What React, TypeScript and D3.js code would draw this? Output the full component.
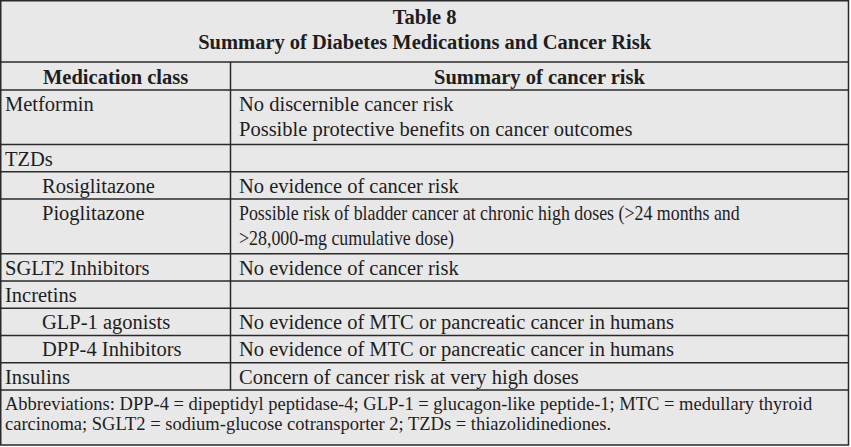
import React from "react";
import * as d3 from "d3";

const titleLines = ["Table 8", "Summary of Diabetes Medications and Cancer Risk"];
const headers = ["Medication class", "Summary of cancer risk"];
const medClasses = [
  "Metformin",
  "TZDs",
  "Rosiglitazone",
  "Pioglitazone",
  "SGLT2 Inhibitors",
  "Incretins",
  "GLP-1 agonists",
  "DPP-4 Inhibitors",
  "Insulins",
];
const indentLevels = [0, 0, 1, 1, 0, 0, 1, 1, 0];
const summaries: string[][] = [
  ["No discernible cancer risk", "Possible protective benefits on cancer outcomes"],
  [],
  ["No evidence of cancer risk"],
  [
    "Possible risk of bladder cancer at chronic high doses (>24 months and",
    ">28,000-mg cumulative dose)",
  ],
  ["No evidence of cancer risk"],
  [],
  ["No evidence of MTC or pancreatic cancer in humans"],
  ["No evidence of MTC or pancreatic cancer in humans"],
  ["Concern of cancer risk at very high doses"],
];
const footnoteLines = [
  "Abbreviations: DPP-4 = dipeptidyl peptidase-4; GLP-1 = glucagon-like peptide-1; MTC = medullary thyroid",
  "carcinoma; SGLT2 = sodium-glucose cotransporter 2; TZDs = thiazolidinediones.",
];

const W = 851;
const H = 447;
const left = 0.75;
const right = 848.5;
const colX = 230.5;
const titleBottom = 62;
const headerBottom = 90;
const bodyBottom = 390;
const tableBottom = 445;
const BG = "#e8e8e8";
const INK = "#1f1d1e";
const LINE = "#2a2a2a";
const FONT = "Liberation Serif";
const BODY = 20.5;
const CONDENSED_ROW = "Pioglitazone";
const CONDENSE = 0.872;

export default function App() {
  const lineCounts = summaries.map((s) => Math.max(1, s.length));
  const cum = [0];
  lineCounts.forEach((c) => cum.push(cum[cum.length - 1] + c));
  const y = d3.scaleLinear().domain([0, cum[cum.length - 1]]).range([headerBottom, bodyBottom]);
  const indent = d3.scaleLinear().domain([0, 1]).range([5, 42]);
  const txt = { fontFamily: FONT };
  const summaryX = 239;

  return (
    <svg
      width={W}
      height={H}
      style={{ position: "absolute", left: 0, top: 0, display: "block" }}
    >
      <rect x={0} y={0} width={W} height={H} fill="#ffffff" />
      <rect x={left} y={0.75} width={right - left} height={tableBottom - 0.75} fill={BG} stroke={LINE} strokeWidth={1.5} />
      {/* title */}
      {titleLines.map((t, i) => (
        <text key={t} x={(left + right) / 2} y={24 + i * 25} textAnchor="middle" fontWeight="bold" fontSize={BODY} fill={INK} style={txt}>
          {t}
        </text>
      ))}
      <line x1={left} x2={right} y1={titleBottom} y2={titleBottom} stroke={LINE} strokeWidth={1.5} />
      {/* header */}
      <text x={(left + colX) / 2} y={84} textAnchor="middle" fontWeight="bold" fontSize={BODY} fill={INK} style={txt}>
        {headers[0]}
      </text>
      <text x={(colX + right) / 2} y={84} textAnchor="middle" fontWeight="bold" fontSize={BODY} fill={INK} style={txt}>
        {headers[1]}
      </text>
      <line x1={left} x2={right} y1={headerBottom} y2={headerBottom} stroke={LINE} strokeWidth={1.5} />
      <line x1={colX} x2={colX} y1={titleBottom} y2={bodyBottom} stroke={LINE} strokeWidth={1.5} />
      {/* body rows */}
      {medClasses.map((m, i) => {
        const top = y(cum[i]);
        const bottom = y(cum[i + 1]);
        const sx = m === CONDENSED_ROW ? CONDENSE : 1;
        return (
          <g key={m}>
            <text x={indent(indentLevels[i])} y={top + 21} fontSize={BODY} fill={INK} style={txt}>
              {m}
            </text>
            <g transform={`translate(${summaryX},0) scale(${sx},1)`}>
              {summaries[i].map((s, j) => (
                <text key={j} x={0} y={top + 21 + j * 25} fontSize={BODY} fill={INK} style={txt}>
                  {s}
                </text>
              ))}
            </g>
            <line x1={left} x2={right} y1={bottom} y2={bottom} stroke={LINE} strokeWidth={1.5} />
          </g>
        );
      })}
      {/* footnote */}
      {footnoteLines.map((f, j) => (
        <text key={j} x={5} y={bodyBottom + 20 + j * 20} fontSize={18.5} fill={INK} style={txt}>
          {f}
        </text>
      ))}
    </svg>
  );
}
